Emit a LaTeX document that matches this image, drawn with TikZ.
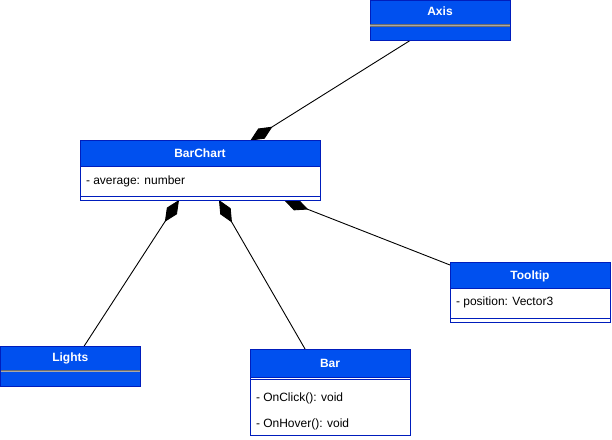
\documentclass[tikz,border=0pt]{standalone}
\usepackage{fontspec}
\setmainfont{Liberation Sans}
\usetikzlibrary{arrows.meta,calc}
\definecolor{hdr}{HTML}{0050EF}
\definecolor{bdr}{HTML}{001DBC}
\definecolor{sepdark}{HTML}{6E6E6E}
\definecolor{seplight}{HTML}{A8A8A8}
\pgfdeclarelayer{bg}
\pgfsetlayers{bg,main}
\begin{document}
\begin{tikzpicture}[x=1pt,y=-1pt,
  every node/.style={inner sep=0pt,outer sep=0pt,font=\fontsize{12}{14}\selectfont},
  headbox/.style={draw=bdr,fill=hdr,line width=1pt,anchor=north west,text=white,
    font=\bfseries\fontsize{12}{14}\selectfont,text height=8.6pt,text depth=0pt},
  headtext/.style={anchor=north west,text=white,
    font=\bfseries\fontsize{12}{14}\selectfont,text height=8.6pt,text depth=0pt},
  bodybox/.style={draw=bdr,fill=white,line width=1pt,anchor=north west},
  bluebody/.style={draw=bdr,fill=hdr,line width=1pt,anchor=north west},
  member/.style={anchor=west,text=black,text height=8.6pt,text depth=0pt},
  sepline/.style={draw=bdr,line width=1pt},
  graysep/.style={draw=sepdark,line width=2.8pt},
  graysepin/.style={draw=seplight,line width=1pt},
  comp/.style={draw=black,line width=0.9pt,-{Diamond[length=26pt,width=12pt]}}
]
\useasboundingbox (0,0) rectangle (612,439);

% Axis
\node[bluebody,minimum width=140pt,minimum height=40pt] (axisbody) at (370,0.5) {};
\node[headtext,minimum width=140pt,minimum height=22pt] (axis) at (370,0.5) {Axis};
\draw[graysep] ([yshift=-25pt]axisbody.north west) -- ([yshift=-25pt]axisbody.north east);
\draw[graysepin] ([yshift=-25pt]axisbody.north west) -- ([yshift=-25pt]axisbody.north east);

% BarChart
\node[bodybox,minimum width=240pt,minimum height=59.5pt] (barchartbody) at (80,140.5) {};
\node[headbox,minimum width=240pt,minimum height=26pt] (barchart) at (80,140.5) {BarChart};
\node[member] (avg) at (86,180) {- average: number};
\draw[sepline] ([yshift=-55.5pt]barchartbody.north west) -- ([yshift=-55.5pt]barchartbody.north east);

% Tooltip
\node[bodybox,minimum width=160pt,minimum height=60pt] (tooltipbody) at (450,262) {};
\node[headbox,minimum width=160pt,minimum height=26pt] (tooltip) at (450,262) {Tooltip};
\node[member] (pos) at (456,301) {- position: Vector3};
\draw[sepline] ([yshift=-56pt]tooltipbody.north west) -- ([yshift=-56pt]tooltipbody.north east);

% Lights
\node[bluebody,minimum width=139.5pt,minimum height=40pt] (lightsbody) at (0.5,346) {};
\node[headtext,minimum width=139.5pt,minimum height=22pt] (lights) at (0.5,346) {Lights};
\draw[graysep] ([yshift=-25pt]lightsbody.north west) -- ([yshift=-25pt]lightsbody.north east);
\draw[graysepin] ([yshift=-25pt]lightsbody.north west) -- ([yshift=-25pt]lightsbody.north east);

% Bar
\node[bodybox,minimum width=160pt,minimum height=86pt] (barbody) at (250,349) {};
\node[headbox,minimum width=160pt,minimum height=28pt] (bar) at (250,349) {Bar};
\draw[sepline] ([yshift=-30pt]barbody.north west) -- ([yshift=-30pt]barbody.north east);
\node[member] (onclick) at (256,397) {- OnClick(): void};
\node[member] (onhover) at (256,423) {- OnHover(): void};

% connectors
\begin{pgfonlayer}{bg}
\draw[comp] ($(axisbody.south west)!0.286!(axisbody.south east)$) -- ($(barchart.north west)!0.71!(barchart.north east)$);
\draw[comp] ($(lightsbody.north west)!0.6!(lightsbody.north east)$) -- ($(barchartbody.south west)!0.4125!(barchartbody.south east)$);
\draw[comp] ($(barbody.north west)!0.344!(barbody.north east)$) -- ($(barchartbody.south west)!0.579!(barchartbody.south east)$);
\draw[comp] ($(tooltipbody.north west)!0.05!(tooltipbody.south west)$) -- ($(barchartbody.south west)!0.85!(barchartbody.south east)$);
\end{pgfonlayer}
\end{tikzpicture}
\end{document}
